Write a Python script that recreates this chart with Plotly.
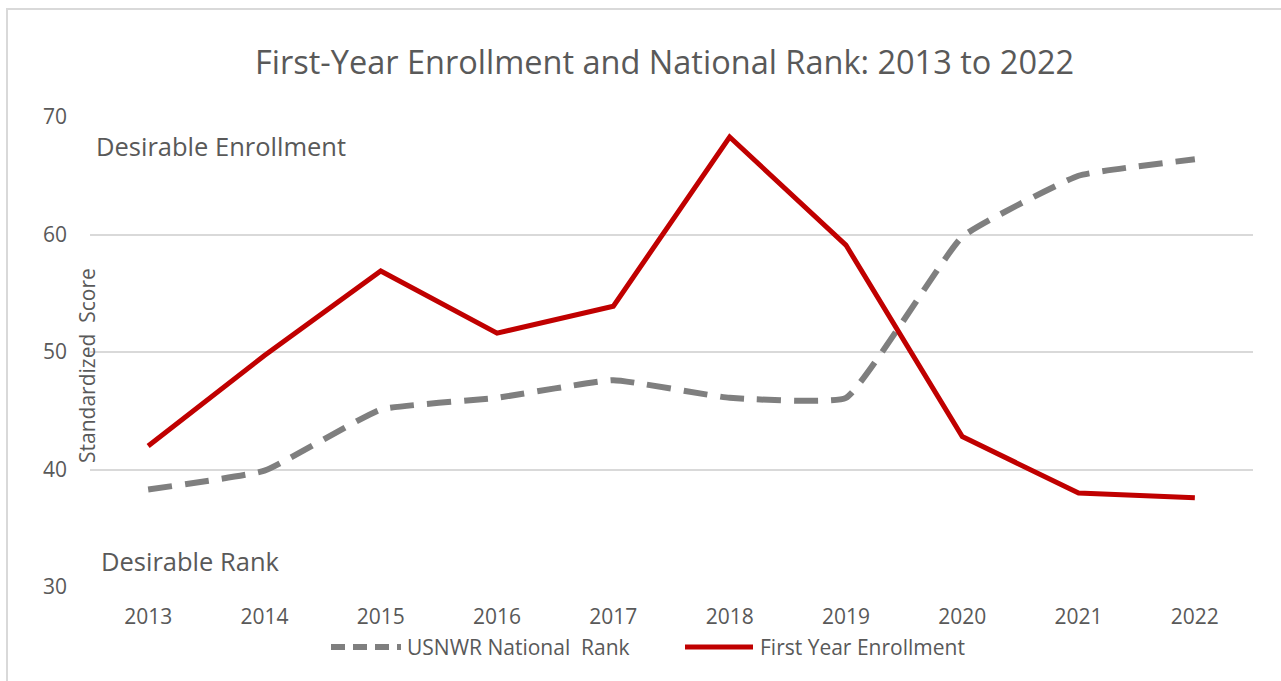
import plotly.graph_objects as go

# Data
years = ["2013", "2014", "2015", "2016", "2017", "2018", "2019", "2020", "2021", "2022"]
usnwr_rank = [38.3, 39.9, 45.1, 46.1, 47.6, 46.1, 46.1, 59.8, 65.0, 66.4]
first_year_enrollment = [42.0, 49.7, 56.9, 51.6, 53.9, 68.3, 59.1, 42.8, 38.0, 37.6]
y_ticks = [30, 40, 50, 60, 70]

FONT = "Open Sans"
TXT = "#595959"
GRAY = "#7f7f7f"
RED = "#c00000"

W, H = 1281, 681
L, R, T, B = 90, 28, 117, 94
PW, PH = W - L - R, H - T - B


def px(x):
    return (x - L) / PW


def py(y):
    return (H - B - y) / PH


fig = go.Figure()
fig.add_trace(go.Scatter(
    x=list(range(len(years))), y=usnwr_rank, mode="lines",
    line=dict(color=GRAY, width=6, dash="24px,13px", shape="spline", smoothing=0.35),
    name="USNWR National  Rank", showlegend=False, hoverinfo="skip"))
fig.add_trace(go.Scatter(
    x=list(range(len(years))), y=first_year_enrollment, mode="lines",
    line=dict(color=RED, width=5),
    name="First Year Enrollment", showlegend=False, hoverinfo="skip"))

shapes = [
    # outer chart border
    dict(type="rect", xref="paper", yref="paper",
         x0=px(7), x1=px(1290), y0=py(690), y1=py(9),
         line=dict(color="#d9d9d9", width=2), layer="below"),
    # legend samples
    dict(type="line", xref="paper", yref="paper", x0=px(331), x1=px(401),
         y0=py(647), y1=py(647), line=dict(color=GRAY, width=6, dash="14px,8px")),
    dict(type="line", xref="paper", yref="paper", x0=px(685), x1=px(753),
         y0=py(647), y1=py(647), line=dict(color=RED, width=5)),
]

annotations = [
    dict(text="First-Year Enrollment and National Rank: 2013 to 2022",
         xref="paper", yref="paper", x=px(664), y=py(61), showarrow=False,
         xanchor="center", yanchor="middle", font=dict(family=FONT, size=32.5, color=TXT)),
    dict(text="Desirable Enrollment", xref="paper", yref="paper", x=px(94), y=py(146),
         showarrow=False, xanchor="left", yanchor="middle",
         font=dict(family=FONT, size=25.5, color=TXT)),
    dict(text="Desirable Rank", xref="paper", yref="paper", x=px(99), y=py(561),
         showarrow=False, xanchor="left", yanchor="middle",
         font=dict(family=FONT, size=25.5, color=TXT)),
    dict(text="Standardized  Score", xref="paper", yref="paper", x=px(87), y=py(366),
         showarrow=False, textangle=-90, xanchor="center", yanchor="middle",
         font=dict(family=FONT, size=21, color=TXT)),
    dict(text="USNWR National  Rank", xref="paper", yref="paper", x=px(405), y=py(647),
         showarrow=False, xanchor="left", yanchor="middle",
         font=dict(family=FONT, size=21, color=TXT)),
    dict(text="First Year Enrollment", xref="paper", yref="paper", x=px(758), y=py(647),
         showarrow=False, xanchor="left", yanchor="middle",
         font=dict(family=FONT, size=21, color=TXT)),
]

fig.update_layout(
    width=W, height=H,
    margin=dict(l=L, r=R, t=T, b=B, pad=0),
    paper_bgcolor="white", plot_bgcolor="white",
    shapes=shapes, annotations=annotations,
    font=dict(family=FONT, color=TXT),
)
fig.update_xaxes(
    range=[-0.5, len(years) - 0.5], tickmode="array",
    tickvals=list(range(len(years))), ticktext=years,
    showgrid=False, zeroline=False, showline=False, ticks="",
    tickfont=dict(family=FONT, size=21, color=TXT), ticklabelstandoff=15,
)
fig.update_yaxes(
    range=[30, 70], tickmode="array", tickvals=y_ticks,
    showgrid=True, gridcolor="#d9d9d9", gridwidth=2, zeroline=False, showline=False,
    ticks="", tickfont=dict(family=FONT, size=21, color=TXT), ticklabelstandoff=22,
)

fig.write_html("out.html", config={"displayModeBar": False})
